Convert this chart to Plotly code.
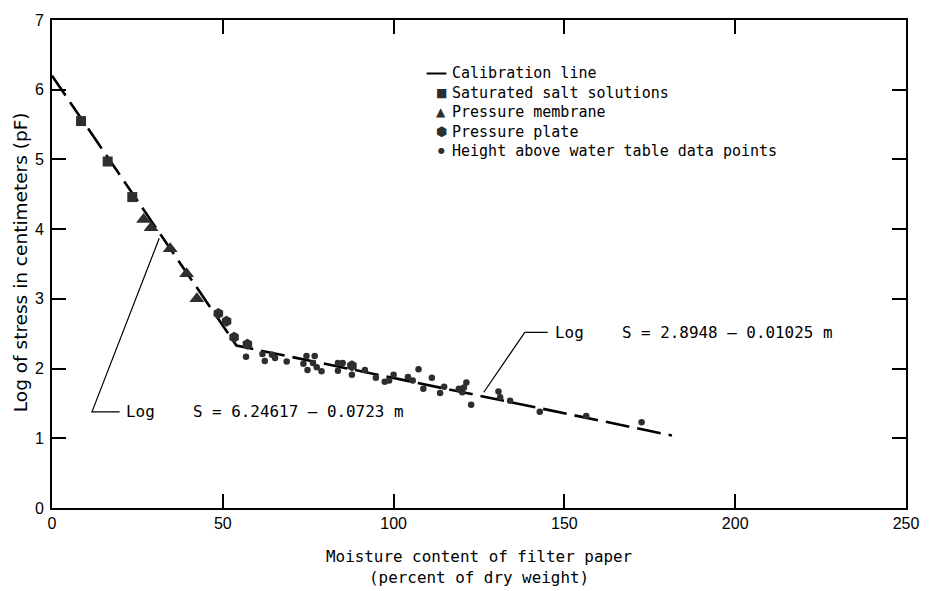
import plotly.graph_objects as go

# ---- data ----
salt_x = [8.5, 16.3, 23.5]
salt_y = [5.55, 4.97, 4.46]

membrane_x = [26.8, 29.0, 34.6, 39.4, 42.4]
membrane_y = [4.14, 4.02, 3.72, 3.36, 3.00]

plate_x = [48.7, 51.1, 53.3, 57.2, 87.8]
plate_y = [2.79, 2.68, 2.45, 2.35, 2.04]

height_x = [56.8, 61.6, 62.3, 64.4, 65.3, 68.7, 73.6, 74.5, 76.9, 74.8, 76.4, 77.5,
            78.9, 83.7, 85.1, 83.7, 87.8, 91.6, 94.8, 97.4, 98.7, 100.0, 104.2, 105.6,
            107.3, 108.7, 111.2, 113.6, 114.8, 119.1, 120.1, 120.6, 121.3, 122.7,
            130.7, 131.2, 134.1, 142.8, 156.4, 172.6]
height_y = [2.17, 2.21, 2.11, 2.20, 2.15, 2.10, 2.07, 2.18, 2.18, 1.98, 2.08, 2.02,
            1.96, 2.08, 2.08, 1.97, 1.91, 1.98, 1.87, 1.81, 1.83, 1.91, 1.88, 1.83,
            1.99, 1.71, 1.87, 1.65, 1.74, 1.71, 1.66, 1.73, 1.80, 1.48,
            1.67, 1.59, 1.54, 1.38, 1.32, 1.23]

calib_x = [0, 54, 181.5]
calib_y = [6.20, 2.33, 1.04]

x_ticks = [0, 50, 100, 150, 200, 250]
y_ticks = [0, 1, 2, 3, 4, 5, 6, 7]

legend_labels = ["Calibration line", "Saturated salt solutions", "Pressure membrane",
                 "Pressure plate", "Height above water table data points"]

eq_left = "Log    S = 6.24617 \u2014 0.0723 m"
eq_right = "Log    S = 2.8948 \u2014 0.01025 m"
# callout leader lines (data coords)
left_leader_x = [31.4, 11.7, 19.8]
left_leader_y = [3.87, 1.38, 1.38]
right_leader_x = [126.4, 138.4, 145.1]
right_leader_y = [1.66, 2.52, 2.52]

MONO = "DejaVu Sans Mono"
SANS = "Liberation Sans"
MARK = "#2e2e2e"
FS = 15.9
LFS = 15.0  # legend font size

fig = go.Figure()
fig.add_trace(go.Scatter(x=calib_x, y=calib_y, mode="lines",
                         line=dict(color="black", width=2.6, dash="24px,8px"),
                         showlegend=False))
fig.add_trace(go.Scatter(x=salt_x, y=salt_y, mode="markers",
                         marker=dict(symbol="square", size=10, color=MARK), showlegend=False))
fig.add_trace(go.Scatter(x=membrane_x, y=membrane_y, mode="markers",
                         marker=dict(symbol="triangle-up", size=13, color=MARK), showlegend=False))
fig.add_trace(go.Scatter(x=plate_x, y=plate_y, mode="markers",
                         marker=dict(symbol="hexagon", size=11, color=MARK), showlegend=False))
fig.add_trace(go.Scatter(x=height_x, y=height_y, mode="markers",
                         marker=dict(symbol="circle", size=6.5, color=MARK), showlegend=False))

# leader lines
def path(xs, ys):
    d = "M %s,%s" % (xs[0], ys[0])
    for a, b in zip(xs[1:], ys[1:]):
        d += " L %s,%s" % (a, b)
    return d

for xs, ys in [(left_leader_x, left_leader_y), (right_leader_x, right_leader_y)]:
    fig.add_shape(type="path", path=path(xs, ys), xref="x", yref="y",
                  line=dict(color="black", width=1.2))

fig.add_annotation(x=left_leader_x[2], y=left_leader_y[2], text=eq_left, showarrow=False,
                   xanchor="left", yanchor="middle", xshift=4,
                   font=dict(family=MONO, size=FS, color="black"))
fig.add_annotation(x=right_leader_x[2], y=right_leader_y[2], text=eq_right, showarrow=False,
                   xanchor="left", yanchor="middle", xshift=5,
                   font=dict(family=MONO, size=FS, color="black"))

# manual legend (positions in paper coords)
L, T, R, B = 52, 16, 916, 508.5
def px(xp):
    return (xp - L) / (R - L)
def py(yp):
    return (B - yp) / (B - T)

line_step = 1.3 * LFS
first_row = 70
row_y = [first_row + i * line_step for i in range(len(legend_labels))]
mid_y = (row_y[0] + row_y[-1]) / 2
fig.add_annotation(x=px(456), y=py(mid_y), xref="paper", yref="paper",
                   text="<br>".join(legend_labels), showarrow=False, align="left",
                   xanchor="left", yanchor="middle", borderpad=0,
                   font=dict(family=MONO, size=LFS, color="black"))
sym_text = [None, "\u25A0", "\u25B2", "\u2B22", "\u25CF"]
sym_size = [None, 12, 12, 13, 8]
for i in range(len(legend_labels)):
    if sym_text[i] is None:
        fig.add_shape(type="line", xref="paper", yref="paper",
                      x0=px(431), x1=px(451), y0=py(row_y[i]), y1=py(row_y[i]),
                      line=dict(color="black", width=2))
    else:
        fig.add_annotation(x=px(446), y=py(row_y[i]), xref="paper", yref="paper",
                           text=sym_text[i], showarrow=False, xanchor="center", yanchor="middle",
                           borderpad=0,
                           font=dict(family="DejaVu Sans", size=sym_size[i], color=MARK))

# axis titles
fig.add_annotation(x=px(20), y=py(260), xref="paper", yref="paper",
                   text="Log of stress in centimeters (pF)", textangle=-90, showarrow=False,
                   xanchor="center", yanchor="middle",
                   font=dict(family="DejaVu Sans", size=18.5, color="black"))
fig.add_annotation(x=0.5, y=py(568), xref="paper", yref="paper",
                   text="Moisture content of filter paper<br>(percent of dry weight)",
                   showarrow=False, yanchor="middle", align="center",
                   font=dict(family=MONO, size=FS, color="black"))

axis_common = dict(showgrid=False, zeroline=False, showline=True, linecolor="black",
                   linewidth=2, mirror="ticks", ticks="inside", ticklen=14, tickwidth=1.5,
                   tickcolor="black", tickfont=dict(family=SANS, size=16, color="black"))
fig.update_xaxes(range=[0, 250], tickvals=x_ticks, ticktext=[str(v) for v in x_ticks],
                 **axis_common)
fig.update_yaxes(range=[0, 7], tickvals=y_ticks, ticktext=[str(v) for v in y_ticks],
                 ticklabelstandoff=3, **axis_common)

fig.update_layout(width=931, height=591, margin=dict(l=L, r=931 - R, t=T, b=591 - B),
                  plot_bgcolor="white", paper_bgcolor="white", showlegend=False)

fig.write_html("out.html")
